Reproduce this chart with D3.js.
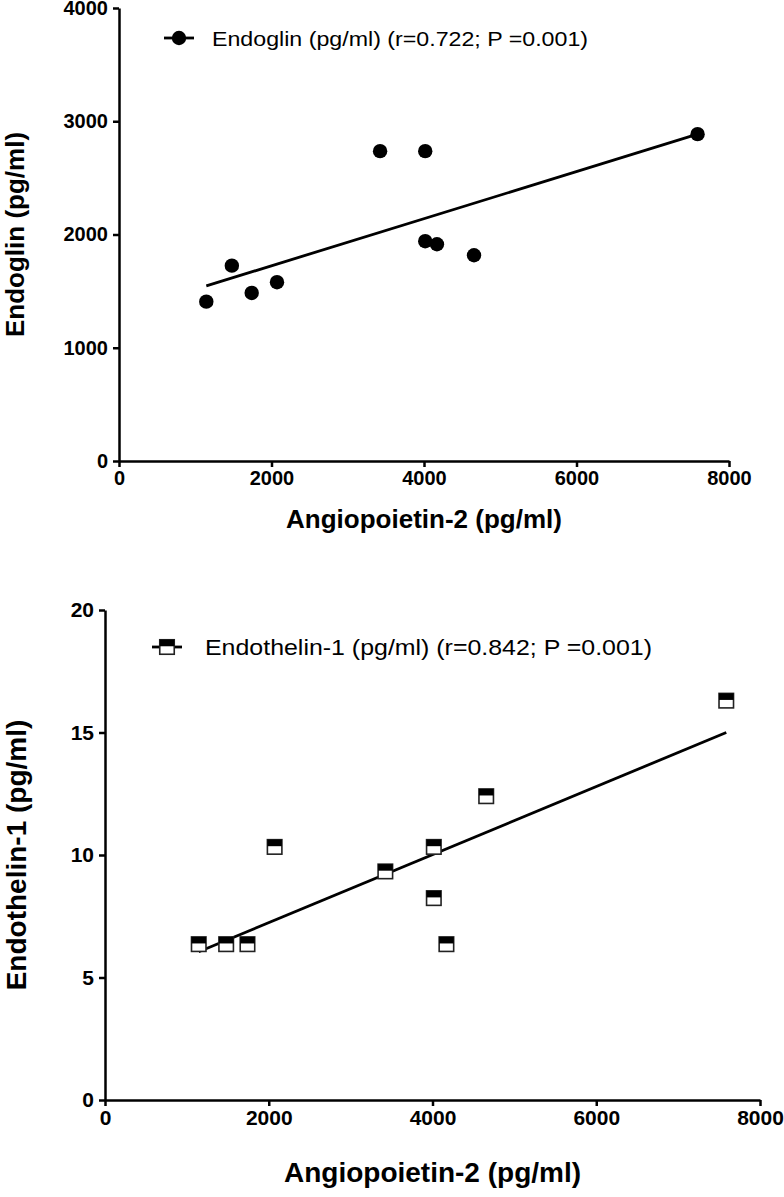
<!DOCTYPE html>
<html>
<head>
<meta charset="utf-8">
<script src="https://cdn.jsdelivr.net/npm/d3@7"></script>
<style>
  body { margin: 0; background: #fff; }
  svg { display: block; font-family: "Liberation Sans", Arial, sans-serif; }
  .axis path, .axis line { stroke: #000; stroke-width: 2.5; }
  .axis text { font-weight: bold; fill: #000; }
</style>
</head>
<body>
<svg width="784" height="1197"></svg>
<script>
// Angiopoietin-2 values shared by both panels (same patients)
const angio = [1145, 1480, 1740, 2072, 3424, 4016, 4016, 4170, 4656, 7588];
const endoglin = [1407, 1725, 1484, 1579, 2736, 2736, 1941, 1914, 1817, 2886];
const endothelin = [6.36, 6.36, 6.36, 10.33, 9.33, 10.33, 8.24, 6.36, 12.4, 16.3];

// regression lines
const fitX = [1145, 7588];
const endoglinFitY = [1546, 2886];
const endothelinFitY = [6.05, 15.0];

const xTicks = [0, 2000, 4000, 6000, 8000];
const endoglinTicks = [0, 1000, 2000, 3000, 4000];
const endothelinTicks = [0, 5, 10, 15, 20];

const svg = d3.select("svg");
const fmt = d3.format("d");

function panel(opts) {
  var g = svg.append("g");
  var x = d3.scaleLinear().domain([0, 8000]).range(opts.xRange);
  var y = d3.scaleLinear().domain(opts.yDomain).range(opts.yRange);

  g.append("g")
    .attr("class", "axis")
    .attr("transform", `translate(0, ${opts.yRange[0]})`)
    .call(d3.axisBottom(x).tickValues(xTicks).tickFormat(fmt).tickSize(6).tickPadding(4).tickSizeOuter(0))
    .selectAll("text").style("font-size", opts.tickFont + "px");

  g.append("g")
    .attr("class", "axis")
    .attr("transform", `translate(${opts.xRange[0]}, 0)`)
    .call(d3.axisLeft(y).tickValues(opts.yTicks).tickFormat(fmt).tickSize(6).tickPadding(5).tickSizeOuter(0))
    .selectAll("text").style("font-size", opts.tickFont + "px");

  // fit line
  var line = d3.line().x(d => x(d[0])).y(d => y(d[1]));
  g.append("path")
    .datum(fitX.map((v, i) => [v, opts.fitY[i]]))
    .attr("d", line)
    .attr("fill", "none")
    .attr("stroke", "#000")
    .attr("stroke-width", 2.8);

  var pts = angio.map((v, i) => [v, opts.values[i]]);
  var marks = g.selectAll(".pt")
    .data(pts)
    .enter()
      .append("g")
      .attr("class", "pt")
      .attr("transform", d => `translate(${x(d[0])}, ${y(d[1])})`);
  opts.marker(marks);

  // axis titles
  g.append("text")
    .attr("x", (opts.xRange[0] + opts.xRange[1]) / 2)
    .attr("y", opts.xTitleY)
    .attr("text-anchor", "middle")
    .style("font-weight", "bold")
    .style("font-size", opts.titleFont + "px")
    .text("Angiopoietin-2 (pg/ml)");

  g.append("text")
    .attr("transform", `translate(${opts.yTitleX}, ${(opts.yRange[0] + opts.yRange[1]) / 2}) rotate(-90)`)
    .attr("text-anchor", "middle")
    .style("font-weight", "bold")
    .style("font-size", opts.titleFont + "px")
    .text(opts.yTitle);

  // legend
  var lg = g.append("g").attr("transform", `translate(${opts.legend[0]}, ${opts.legend[1]})`);
  lg.append("line")
    .attr("x1", -15).attr("x2", 15)
    .attr("stroke", "#000").attr("stroke-width", 2.8);
  opts.marker(lg.append("g"));
  lg.append("text")
    .attr("x", opts.legendTextDx)
    .attr("y", opts.legendFont * 0.36)
    .style("font-size", opts.legendFont + "px")
    .attr("textLength", opts.legendWidth)
    .attr("lengthAdjust", "spacingAndGlyphs")
    .text(opts.legendText);
}

function circleMarker(sel) {
  sel.append("circle").attr("r", 7.2).attr("fill", "#000");
}

function squareMarker(sel) {
  var s = 14.5;
  sel.append("rect")
    .attr("x", -s / 2).attr("y", -s / 2)
    .attr("width", s).attr("height", s)
    .attr("fill", "#fff").attr("stroke", "#222").attr("stroke-width", 1.6);
  sel.append("rect")
    .attr("x", -s / 2).attr("y", -s / 2)
    .attr("width", s).attr("height", s * 0.45)
    .attr("fill", "#000");
}

panel({
  xRange: [119, 729],
  yRange: [461, 8],
  yDomain: [0, 4000],
  yTicks: endoglinTicks,
  values: endoglin,
  fitY: endoglinFitY,
  marker: circleMarker,
  tickFont: 20,
  titleFont: 26,
  xTitleY: 528,
  yTitleX: 24,
  yTitle: "Endoglin (pg/ml)",
  legend: [179, 38],
  legendTextDx: 33,
  legendFont: 21,
  legendWidth: 376,
  legendText: "Endoglin (pg/ml) (r=0.722; P =0.001)"
});

panel({
  xRange: [105, 760],
  yRange: [1100, 610],
  yDomain: [0, 20],
  yTicks: endothelinTicks,
  values: endothelin,
  fitY: endothelinFitY,
  marker: squareMarker,
  tickFont: 21,
  titleFont: 28,
  xTitleY: 1182,
  yTitleX: 26,
  yTitle: "Endothelin-1 (pg/ml)",
  legend: [167, 647],
  legendTextDx: 38,
  legendFont: 22.5,
  legendWidth: 447,
  legendText: "Endothelin-1 (pg/ml) (r=0.842; P =0.001)"
});
</script>
</body>
</html>
